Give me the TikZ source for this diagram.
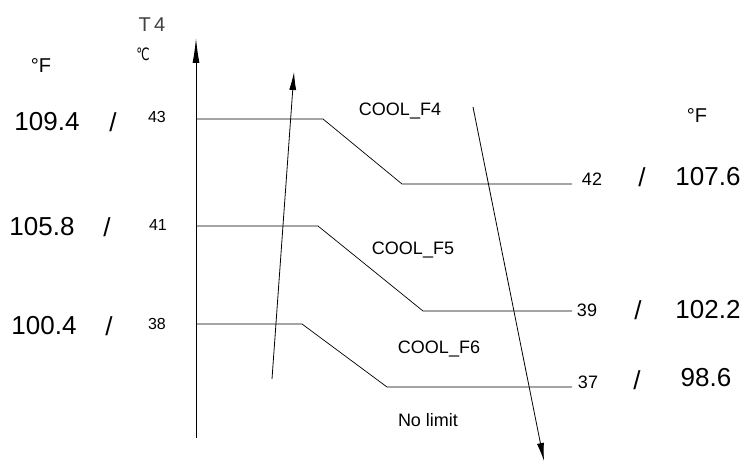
\documentclass[tikz,border=0pt]{standalone}
\usepackage{fontspec}
\setmainfont{Liberation Sans}
\newfontfamily\symfont{DejaVu Sans}
\usetikzlibrary{arrows.meta}

\begin{document}
\begin{tikzpicture}[x=1pt,y=-1pt]
\tikzstyle{every node}+=[inner sep=0pt]
\tikzstyle{bignum}=[font=\fontsize{26}{26}\selectfont]
\tikzstyle{leftnum}=[font=\fontsize{16}{16}\selectfont]
\tikzstyle{rightnum}=[font=\fontsize{18}{18}\selectfont]
\tikzstyle{unit}=[font=\fontsize{20}{20}\selectfont]
\tikzstyle{zone}=[font=\fontsize{18}{18}\selectfont]
\tikzstyle{limit}=[black, line width=0.7pt]
\tikzstyle{trend}=[black, line width=0.8pt, -{Latex[length=18pt,width=7pt]}]
\useasboundingbox (0,0) rectangle (745,462);
% T4 axis
\coordinate (ax0) at (196,438);
\coordinate (ax1) at (196,38);
\draw [line width=1pt, -{Latex[length=25pt,width=7pt]}] (ax0) -- (ax1);
\node (t4) at (152,25) {\fontsize{20}{20}\selectfont\color{black!75}T\,4};
\node (degc) at (143,54) {\fontsize{17}{17}\selectfont\symfont\addfontfeature{FakeStretch=0.7}℃};
\node [unit] (degfl) at (41,66) {°F};
\node [unit] (degfr) at (697,116) {°F};
% limit lines
\coordinate (s43) at (196,119);
\coordinate (k43) at (323,119);
\coordinate (k42) at (402,184);
\coordinate (e42) at (572,184);
\draw [limit] (s43) -- (k43) -- (k42) -- (e42);
\coordinate (s41) at (196,226);
\coordinate (k41) at (318,226);
\coordinate (k39) at (423,311);
\coordinate (e39) at (572,311);
\draw [limit] (s41) -- (k41) -- (k39) -- (e39);
\coordinate (s38) at (196,324);
\coordinate (k38) at (302,324);
\coordinate (k37) at (387,387);
\coordinate (e37) at (572,387);
\draw [limit] (s38) -- (k38) -- (k37) -- (e37);
% rising and falling arrows
\coordinate (up0) at (272,379);
\coordinate (up1) at (294,72);
\draw [trend] (up0) -- (up1);
\coordinate (dn0) at (473,107);
\coordinate (dn1) at (544,461);
\draw [trend] (dn0) -- (dn1);
% left values
\node [bignum] (f43) at (47,122) {109.4};
\node [bignum] (sl43) at (113,122) {/};
\node [leftnum] (c43) at (157,117) {43};
\node [bignum] (f41) at (42,227) {105.8};
\node [bignum] (sl41) at (107,227) {/};
\node [leftnum] (c41) at (158,225) {41};
\node [bignum] (f38) at (44,326) {100.4};
\node [bignum] (sl38) at (109,326) {/};
\node [leftnum] (c38) at (157,324) {38};
% right values
\node [rightnum] (c42) at (592,179) {42};
\node [bignum] (sl42) at (642,177) {/};
\node [bignum] (f42) at (708,177) {107.6};
\node [rightnum] (c39) at (587,310) {39};
\node [bignum] (sl39) at (638,310) {/};
\node [bignum] (f39) at (708,310) {102.2};
\node [rightnum] (c37) at (588,382) {37};
\node [bignum] (sl37) at (637,380) {/};
\node [bignum] (f37) at (706,378) {98.6};
% zones
\node [zone] (cf4) at (400,111) {COOL\_F4};
\node [zone] (cf5) at (413,250) {COOL\_F5};
\node [zone] (cf6) at (439,349) {COOL\_F6};
\node [zone] (nolim) at (428,420) {No limit};
\end{tikzpicture}
\end{document}
